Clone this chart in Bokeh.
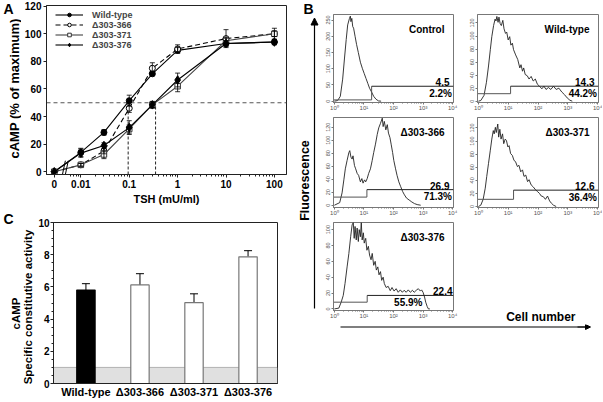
import math
from bokeh.plotting import figure
from bokeh.layouts import row, column
from bokeh.models import (Range1d, FixedTicker, Label, Arrow, NormalHead, Whisker, TeeHead,
                          ColumnDataSource, Legend, LegendItem, Span, BoxAnnotation)
from bokeh.embed import file_html
from bokeh.resources import INLINE

FONT = "Liberation Sans"

# ---------------- Panel A data ----------------
TSH_DOSE = [0, 0.01, 0.03, 0.1, 0.3, 1, 10, 100]
A_TICK_DOSE = [0, 0.01, 0.1, 1, 10, 100]
A_TICK_LABELS = ["0", "0.01", "0.1", "1", "10", "100"]
A_Y_TICKS = [0, 20, 40, 60, 80, 100, 120]
SERIES_NAMES = ["Wild-type", "Δ303-366", "Δ303-371", "Δ303-376"]
WT_CAMP = [0, 14, 28.5, 51.5, 71, 88, 93, 94]
WT_SEM = [0, 3, 2, 4, 1.5, 2, 2, 1.5]
D366_CAMP = [0, 5, 15, 46, 75, 89, 96.5, 100]
D366_SEM = [0, 1, 2, 3, 4, 3, 6.5, 4]
D371_CAMP = [0, 5, 12.5, 31, 48.5, 62, 95, 100]
D371_SEM = [0, 1, 3, 3, 2, 4, 2, 2]
D376_CAMP = [0, 13.5, 19, 32, 48.5, 66.5, 93, 94]
D376_SEM = [0, 3, 2, 5, 2.5, 5, 2, 2]
HALF_MAX = 50
EC50_LEFT = 0.095
EC50_RIGHT = 0.35

# ---------------- Panel C data ----------------
C_GROUPS = ["Wild-type", "Δ303-366", "Δ303-371", "Δ303-376"]
C_ACTIVITY = [5.8, 6.12, 5.02, 7.87]
C_SEM = [0.4, 0.7, 0.55, 0.38]
C_BASAL = 1.0
C_Y_TICKS = [0, 2, 4, 6, 8, 10]

# ---------------- Panel B data (log10 fluorescence, cell counts) ----------------
HIST_TITLES = ["Control", "Wild-type", "Δ303-366", "Δ303-371", "Δ303-376"]
HIST_MEAN_FL = [4.5, 14.3, 26.9, 12.6, 22.4]
HIST_PCT_POS = [2.2, 44.2, 71.3, 36.4, 55.9]
GATE_LOG = [1.26, 1.08, 1.10, 1.18, 1.11]
GATE_LOW_Y = [4, 11.5, 12.5, 11, 8.5]
GATE_HIGH_Y = [46, 23, 24, 25, 17]
HIST_Y_TOP_TICK = [250, 120, 120, 120, 100]
HIST_Y_STEP = [50, 20, 20, 20, 20]
HIST_X_TICKS = [0, 1, 2, 3, 4]
HIST_X_LABELS = ["10⁰", "10¹", "10²", "10³", "10⁴"]

CTRL_LOG = [0.0, 0.11, 0.2, 0.28, 0.34, 0.4, 0.45, 0.51, 0.54, 0.56, 0.59, 0.62, 0.65, 0.7,
            0.75, 0.81, 0.88, 0.95, 1.01, 1.07, 1.13, 1.19, 1.26, 1.33, 1.41, 1.49, 1.58]
CTRL_COUNT = [0, 2, 15, 68, 130, 190, 235, 255, 262, 245, 255, 230, 225, 200,
              175, 150, 120, 100, 85, 70, 55, 40, 28, 15, 6, 1, 0]

WT_LOG = [0.0, 0.08, 0.19, 0.27, 0.34, 0.40, 0.45, 0.51, 0.56, 0.59,
          0.62, 0.66, 0.69, 0.73, 0.77, 0.82, 0.86, 0.91, 0.95, 1.00,
          1.05, 1.09, 1.14, 1.18, 1.25, 1.32, 1.39, 1.43, 1.48, 1.52,
          1.57, 1.64, 1.70, 1.77, 1.84, 1.91, 1.98, 2.05, 2.13, 2.20,
          2.27, 2.35, 2.43, 2.52, 2.61, 2.70, 2.80, 2.89, 2.98, 3.07, 3.15]
WT_COUNT = [0, 1, 9, 29, 54, 79, 99, 116, 126, 123,
            130, 121, 129, 119, 116, 124, 111, 104, 106, 94,
            99, 86, 89, 79, 71, 64, 51, 56, 46, 51,
            41, 39, 34, 38, 31, 34, 26, 23, 19, 23,
            18, 21, 18, 23, 18, 20, 14, 10, 5, 1.5, 0]

D366_LOG = [0.0, 0.18, 0.26, 0.32, 0.37, 0.43, 0.49, 0.52, 0.56, 0.60,
            0.63, 0.68, 0.72, 0.77, 0.82, 0.88, 0.93, 0.97, 1.02, 1.06,
            1.11, 1.16, 1.22, 1.28, 1.33, 1.39, 1.45, 1.50, 1.56, 1.62,
            1.65, 1.69, 1.74, 1.79, 1.83, 1.88, 1.92, 1.97, 2.01, 2.07,
            2.12, 2.18, 2.24, 2.31, 2.37, 2.44, 2.53, 2.62, 2.71, 2.80, 2.92]
D366_COUNT = [0, 4, 19, 39, 56, 69, 81, 84, 74, 71,
              76, 61, 56, 49, 46, 36, 41, 34, 39, 36,
              41, 49, 56, 69, 81, 94, 109, 119, 126, 134,
              121, 129, 116, 124, 111, 104, 94, 81, 69, 56,
              46, 36, 29, 21, 16, 11, 8, 5, 2.5, 1, 0]

D371_LOG = [0.0, 0.08, 0.16, 0.23, 0.28, 0.34, 0.40, 0.45, 0.50, 0.53,
            0.57, 0.60, 0.65, 0.68, 0.72, 0.76, 0.81, 0.85, 0.90, 0.94,
            0.99, 1.03, 1.08, 1.14, 1.19, 1.25, 1.31, 1.36, 1.42, 1.48,
            1.53, 1.59, 1.65, 1.70, 1.77, 1.84, 1.91, 1.98, 2.05, 2.11,
            2.18, 2.25, 2.32, 2.39, 2.45, 2.52, 2.61]
D371_COUNT = [0, 2, 11, 28, 46, 66, 86, 103, 116, 111,
              121, 113, 126, 106, 118, 103, 111, 96, 103, 101,
              91, 93, 81, 78, 71, 68, 61, 63, 53, 56,
              46, 48, 38, 41, 33, 30, 26, 23, 20, 16,
              15, 11, 16, 8.5, 5, 2, 0]

D376_LOG = [0.0, 0.15, 0.23, 0.30, 0.36, 0.43, 0.49, 0.55, 0.60, 0.64,
            0.67, 0.70, 0.74, 0.77, 0.81, 0.84, 0.88, 0.91, 0.94, 0.98,
            1.01, 1.06, 1.10, 1.15, 1.19, 1.24, 1.28, 1.33, 1.38, 1.42,
            1.47, 1.51, 1.56, 1.60, 1.65, 1.69, 1.75, 1.82, 1.89, 1.95,
            2.02, 2.09, 2.16, 2.23, 2.30, 2.36, 2.43, 2.50, 2.57, 2.64,
            2.70, 2.77, 2.84, 2.91, 2.95, 3.00, 3.05, 3.09, 3.14, 3.18, 3.23]
D376_COUNT = [0, 1, 8.5, 17, 32, 53, 70, 91, 106, 109,
              89, 104, 87, 102, 85, 100, 91, 109, 87, 96,
              83, 89, 74, 79, 68, 62, 70, 55, 60, 49,
              53, 43, 47, 36, 40, 32, 27, 28.5, 23, 27,
              22.5, 25.5, 21, 24, 21, 23.5, 21, 24, 21, 23.5,
              21, 23.5, 25.5, 22.5, 24, 21, 15, 8.5, 3, 0, 0]

HIST_LOGS = [CTRL_LOG, WT_LOG, D366_LOG, D371_LOG, D376_LOG]
HIST_COUNTS = [CTRL_COUNT, WT_COUNT, D366_COUNT, D371_COUNT, D376_COUNT]

# ---------------- layout / style constants ----------------
ZERO_POS = -2.55     # where dose 0 is drawn on the broken log axis
BREAK_POS = -2.33
HIST_Y_RANGES = [(-4, 267), (-2, 133), (-3.5, 135), (-1.5, 136), (-2, 109)]
HIST_X_RANGE = (-0.03, 4.03)


def dose_pos(d):
    return ZERO_POS if d == 0 else math.log10(d)


def base_fig(**kw):
    p = figure(output_backend="svg", toolbar_location=None, title=None, **kw)
    p.background_fill_color = "white"
    p.border_fill_color = "white"
    return p


def strip_fig(w, h):
    """Blank figure whose frame is the whole canvas; coordinates are pixels from top-left."""
    p = base_fig(width=w, height=h, x_range=Range1d(0, w), y_range=Range1d(h, 0),
                 x_axis_type=None, y_axis_type=None, min_border=0,
                 min_border_left=0, min_border_right=0, min_border_top=0, min_border_bottom=0)
    p.outline_line_color = None
    p.grid.visible = False
    return p


def style_axes(p, size, color="#222", bold=True, label_color="black"):
    for ax in p.axis:
        ax.axis_line_color = color
        ax.major_tick_line_color = color
        ax.minor_tick_line_color = color
        ax.major_tick_in = 0
        ax.minor_tick_in = 0
        ax.major_label_text_font = FONT
        ax.major_label_text_font_size = size
        ax.major_label_text_font_style = "bold" if bold else "normal"
        ax.major_label_text_color = label_color
        ax.axis_label_text_font = FONT
        ax.axis_label_text_font_style = "bold"
        ax.axis_label_text_color = "black"


def text_label(p, txt, x, y, size, align="left", baseline="top", angle=0.0):
    p.add_layout(Label(x=x, y=y, text=txt, angle=angle, text_font=FONT, text_font_style="bold",
                       text_font_size=size, text_align=align, text_baseline=baseline,
                       text_color="black"))


# ================= Panel A =================
pA = base_fig(width=276, height=207, x_range=Range1d(-2.71, 2.25), y_range=Range1d(-2, 120.5),
              min_border_left=22, min_border_right=11, min_border_top=5, min_border_bottom=32)
pA.grid.visible = False
pA.outline_line_color = "#222"
style_axes(pA, "10px")
minorA = []
for e in range(-3, 2):
    for k in range(2, 10):
        v = math.log10(k * 10.0 ** e)
        if -2.3 < v < 2.2:
            minorA.append(v)
pA.xaxis.ticker = FixedTicker(ticks=[dose_pos(d) for d in A_TICK_DOSE], minor_ticks=minorA)
pA.xaxis.major_label_overrides = {dose_pos(d): lab for d, lab in zip(A_TICK_DOSE, A_TICK_LABELS)}
pA.xaxis.major_tick_out = 3
pA.xaxis.minor_tick_out = 2
pA.xaxis.major_label_standoff = 2
pA.xaxis.axis_label = "TSH (mU/ml)"
pA.xaxis.axis_label_text_font_size = "11px"
pA.xaxis.axis_label_standoff = 2
pA.yaxis.ticker = FixedTicker(ticks=A_Y_TICKS, minor_ticks=[])
pA.yaxis.major_tick_out = 3
pA.yaxis.major_label_standoff = 2

pA.add_layout(Span(location=HALF_MAX, dimension="width", line_color="#555",
                   line_dash="4 3", line_width=1, level="underlay"))
pA.segment(x0=[math.log10(EC50_LEFT), math.log10(EC50_RIGHT)], y0=[-2, -2],
           x1=[math.log10(EC50_LEFT), math.log10(EC50_RIGHT)], y1=[HALF_MAX, HALF_MAX],
           line_color="#222", line_dash="3 2", line_width=1)

xs = [dose_pos(d) for d in TSH_DOSE]
series = [(WT_CAMP, WT_SEM), (D366_CAMP, D366_SEM), (D371_CAMP, D371_SEM), (D376_CAMP, D376_SEM)]
styles = [
    dict(marker="circle", size=6, fill="black", lc="black", dash="solid", col="black"),
    dict(marker="circle", size=6, fill="white", lc="black", dash="5 3", col="black"),
    dict(marker="square", size=5.5, fill="white", lc="#333", dash="solid", col="#444"),
    dict(marker="diamond", size=8.5, fill="black", lc="black", dash="solid", col="black"),
]
items = []
for name, (vals, sems), st in zip(SERIES_NAMES, series, styles):
    lr = pA.line(xs, vals, line_color=st["col"], line_dash=st["dash"], line_width=1.1)
    wx = [x for x, s in zip(xs, sems) if s > 0]
    wlo = [v - s for v, s in zip(vals, sems) if s > 0]
    whi = [v + s for v, s in zip(vals, sems) if s > 0]
    src = ColumnDataSource(dict(x=wx, lo=wlo, hi=whi))
    pA.add_layout(Whisker(source=src, base="x", lower="lo", upper="hi", line_color="black",
                          line_width=0.8, level="glyph",
                          upper_head=TeeHead(size=5, line_color="black", line_width=0.8),
                          lower_head=TeeHead(size=5, line_color="black", line_width=0.8)))
    sr = pA.scatter(xs, vals, marker=st["marker"], size=st["size"], fill_color=st["fill"],
                    line_color=st["lc"], line_width=1)
    items.append(LegendItem(label=name, renderers=[lr, sr]))

pA.segment(x0=[BREAK_POS - 0.05, BREAK_POS + 0.01], y0=[-2, -2],
           x1=[BREAK_POS + 0.01, BREAK_POS + 0.07], y1=[8, 8], line_color="black", line_width=1)

legA = Legend(items=items, location=(9, 124.5))
legA.border_line_color = None
legA.background_fill_alpha = 0
legA.label_text_font = FONT
legA.label_text_font_style = "bold"
legA.label_text_font_size = "9px"
legA.glyph_width = 28
legA.glyph_height = 9
legA.label_height = 9
legA.label_standoff = 9
legA.spacing = 0
legA.padding = 0
legA.margin = 0
pA.add_layout(legA)

stripA = strip_fig(21, 207)
text_label(stripA, "A", 3, 0, "14px")
text_label(stripA, "cAMP (% of maximum)", 13.5, 88, "13px", align="center", baseline="middle",
           angle=math.pi / 2)

# ================= Panel C =================
pC = base_fig(width=262, height=195, x_range=Range1d(0.4, 4.545), y_range=Range1d(0, 10),
              min_border_left=14, min_border_right=20, min_border_top=15, min_border_bottom=19)
pC.grid.visible = False
pC.outline_line_color = "#222"
style_axes(pC, "10px")
cx = list(range(1, len(C_GROUPS) + 1))
pC.add_layout(BoxAnnotation(bottom=0, top=C_BASAL, fill_color="#e0e0e0", fill_alpha=1,
                            line_color="#222", line_width=1, level="underlay"))
pC.vbar(x=cx, top=C_ACTIVITY, width=0.34,
        fill_color=["black"] + ["white"] * (len(C_GROUPS) - 1),
        line_color=["black"] + ["#777"] * (len(C_GROUPS) - 1), line_width=1.2)
srcC = ColumnDataSource(dict(x=cx, lo=C_ACTIVITY, hi=[a + s for a, s in zip(C_ACTIVITY, C_SEM)]))
pC.add_layout(Whisker(source=srcC, base="x", lower="lo", upper="hi", line_color="black",
                      line_width=1, lower_head=None,
                      upper_head=TeeHead(size=8, line_color="black", line_width=1)))
pC.xaxis.ticker = FixedTicker(ticks=cx, minor_ticks=[])
pC.xaxis.major_label_overrides = {x: g for x, g in zip(cx, C_GROUPS)}
pC.xaxis.major_tick_out = 0
pC.xaxis.major_label_standoff = 2
pC.xaxis.major_label_text_font_size = "11px"
pC.yaxis.ticker = FixedTicker(ticks=C_Y_TICKS, minor_ticks=[t / 2 for t in range(0, 21)])
pC.yaxis.major_tick_out = 3
pC.yaxis.minor_tick_out = 2
pC.yaxis.major_label_standoff = 1

stripC = strip_fig(35, 195)
text_label(stripC, "C", 3, 3, "14px")
text_label(stripC, "cAMP", 15.5, 106, "11.5px", align="center", baseline="middle", angle=math.pi / 2)
text_label(stripC, "Specific constitutive activity", 27.8, 99.5, "11.5px", align="center",
           baseline="middle", angle=math.pi / 2)

# ================= Panel B =================
minorH = [math.log10(k) + d for d in range(0, 4) for k in range(2, 10)]


def make_hist(i, width, height, bl, br, bt, bb):
    ylo, yhi = HIST_Y_RANGES[i]
    p = base_fig(width=width, height=height, x_range=Range1d(*HIST_X_RANGE), y_range=Range1d(ylo, yhi),
                 min_border_left=bl, min_border_right=br, min_border_top=bt, min_border_bottom=bb)
    p.grid.visible = False
    p.outline_line_color = "#777"
    style_axes(p, "6px", color="#777", bold=False, label_color="#555")
    p.xaxis.ticker = FixedTicker(ticks=HIST_X_TICKS, minor_ticks=minorH)
    p.xaxis.major_label_overrides = {t: lab for t, lab in zip(HIST_X_TICKS, HIST_X_LABELS)}
    p.xaxis.major_tick_out = 2
    p.xaxis.minor_tick_out = 1
    p.xaxis.major_label_standoff = 0
    p.yaxis.ticker = FixedTicker(ticks=list(range(0, HIST_Y_TOP_TICK[i] + 1, HIST_Y_STEP[i])),
                                 minor_ticks=[])
    p.yaxis.major_tick_out = 2
    p.yaxis.major_label_standoff = 1
    p.yaxis.major_label_orientation = "vertical"
    p.yaxis.major_label_text_font_size = "5.5px"
    p.line(HIST_LOGS[i], HIST_COUNTS[i], line_color="#222", line_width=0.9)
    g = GATE_LOG[i]
    p.line([HIST_X_RANGE[0], g, g], [GATE_LOW_Y[i], GATE_LOW_Y[i], GATE_HIGH_Y[i]],
           line_color="#555", line_width=1)
    p.line([g, HIST_X_RANGE[1]], [GATE_HIGH_Y[i], GATE_HIGH_Y[i]], line_color="#222", line_width=1)
    lab_kw = dict(text_font=FONT, text_font_style="bold", text_font_size="10px", text_color="black")
    p.add_layout(Label(x=HIST_X_RANGE[1], y=yhi, x_offset=-9, y_offset=-15, text=HIST_TITLES[i],
                       text_align="right", text_baseline="middle", **lab_kw))
    p.add_layout(Label(x=HIST_X_RANGE[1], y=GATE_HIGH_Y[i], x_offset=-1 if i == 4 else -4, y_offset=0,
                       text=f"{HIST_MEAN_FL[i]}", text_align="right", text_baseline="bottom", **lab_kw))
    if i == 4:
        p.add_layout(Label(x=2.5, y=GATE_HIGH_Y[i], y_offset=-1.5, text=f"{HIST_PCT_POS[i]}%",
                           text_align="center", text_baseline="top", **lab_kw))
    else:
        p.add_layout(Label(x=HIST_X_RANGE[1], y=GATE_HIGH_Y[i], x_offset=-1.5, y_offset=-1.5,
                           text=f"{HIST_PCT_POS[i]}%", text_align="right", text_baseline="top", **lab_kw))
    return p


h1 = make_hist(0, 146, 113, 14, 12, 14, 9)
h2 = make_hist(1, 137, 113, 12, 4, 14, 9)
h3 = make_hist(2, 146, 105, 14, 12, 4, 9)
h4 = make_hist(3, 137, 105, 12, 4, 4, 9)
h5 = make_hist(4, 146, 106, 14, 12, 4, 14)

slot = strip_fig(137, 106)
text_label(slot, "Cell number", 110, 98.5, "12px", align="right", baseline="middle")

bottom = strip_fig(283, 78)
bottom.segment(x0=[21], y0=[2.5], x1=[266], y1=[2.5], line_color="black", line_width=1.2)
bottom.add_layout(Arrow(x_start=258, y_start=2.5, x_end=271, y_end=2.5, line_color="black",
                        line_width=1.2, end=NormalHead(size=5, fill_color="black", line_color="black")))

stripV = strip_fig(22, 402)
stripV.add_layout(Arrow(x_start=17, y_start=308, x_end=17, y_end=17.5, line_color="black",
                        line_width=1.2, end=NormalHead(size=7, fill_color="black", line_color="black")))
text_label(stripV, "Fluorescence", 7, 180, "12.5px", align="center", baseline="middle", angle=math.pi / 2)
text_label(stripV, "B", 6, 0, "14px")

# each blank strip is wrapped in its own column so that its frame is not aligned to a sibling plot
left_col = column(row(column(stripA), column(pA)), row(column(stripC), column(pC)))
grid = column(row(h1, h2), row(h3, h4), row(column(h5), column(slot)), column(bottom))
right_col = row(column(stripV), grid)
layout = row(left_col, right_col)

open("out.html", "w").write(file_html(layout, INLINE))
